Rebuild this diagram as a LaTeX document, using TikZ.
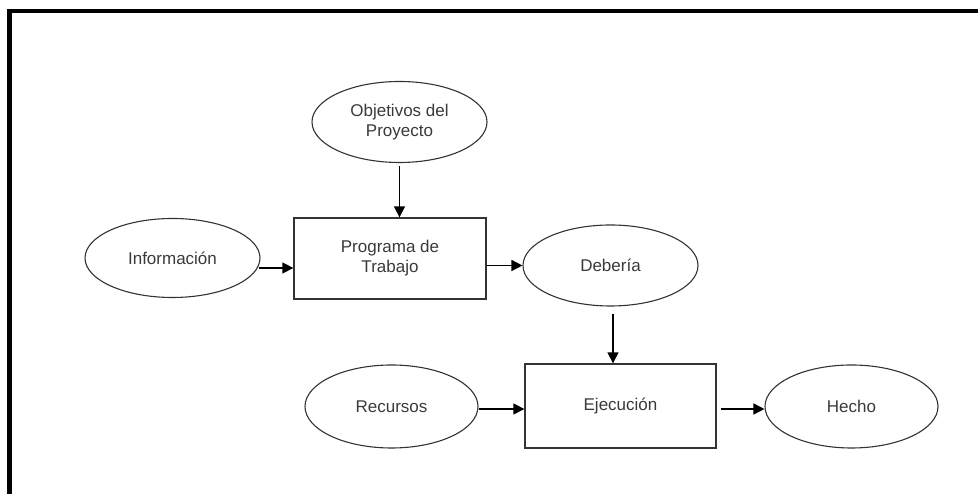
\documentclass[tikz,border=0pt]{standalone}
\usepackage{fontspec}
\setmainfont{Liberation Sans}
\usetikzlibrary{shapes.geometric,arrows.meta}
\definecolor{ink}{HTML}{333333}
\definecolor{txt}{HTML}{3A3A3A}
\tikzset{
  x=1pt, y=1pt,
  lbl/.style={font=\fontsize{17}{20}\selectfont, text=txt, align=center, inner sep=0pt},
  oval/.style={lbl, ellipse, draw=ink, line width=1.1pt, minimum width=175pt, minimum height=81pt},
  stepbox/.style={lbl, rectangle, draw=ink, line width=1.3pt, minimum width=192pt, minimum height=81pt},
  arr/.style={draw=black, line width=1.4pt, -{Triangle[length=11pt,width=11pt]}},
  frame/.style={line width=4.5pt, draw=black}
}
\begin{document}
\begin{tikzpicture}
\useasboundingbox (0,0) rectangle (978,494);
\fill[white] (0,0) rectangle (978,494);
% outer frame: top and left edges
\draw[frame] (7,483) -- (978,483);
\draw[frame] (9.5,485) -- (9.5,0);

% nodes
\node[oval] (obj) at (399.5,372) {Objetivos del\\Proyecto};
\node[stepbox] (prog) at (390,235.5) {Programa de\\Trabajo};
\node[oval, minimum height=79pt] (info) at (172.5,236) {Información};
\node[oval] (deb) at (610.5,228.5) {Debería};
\node[oval, minimum width=173pt, minimum height=83pt] (rec) at (391.5,87.5) {Recursos};
\node[stepbox, minimum width=191pt, minimum height=84pt] (ejec) at (620.5,88) {Ejecución};
\node[oval, minimum width=173pt, minimum height=83pt] (hecho) at (851.5,87.5) {Hecho};

% connectors
\draw[arr] ([yshift=-3pt]obj.south) -- (obj.south |- prog.north);
\draw[arr] ([xshift=-2pt,yshift=-10pt]info.east) -- ([yshift=-9.5pt]prog.west);
\draw[arr] (prog.east |- deb.west) -- (deb.west);
\draw[arr] ([xshift=2.5pt,yshift=-7pt]deb.south) -- ([xshift=2.5pt]deb.south |- ejec.north);
\draw[arr] ([yshift=-2.5pt]rec.east) -- ([yshift=-3pt]ejec.west);
\draw[arr] ([xshift=4pt,yshift=-3pt]ejec.east) -- ([yshift=-2.5pt]hecho.west);
\end{tikzpicture}
\end{document}
